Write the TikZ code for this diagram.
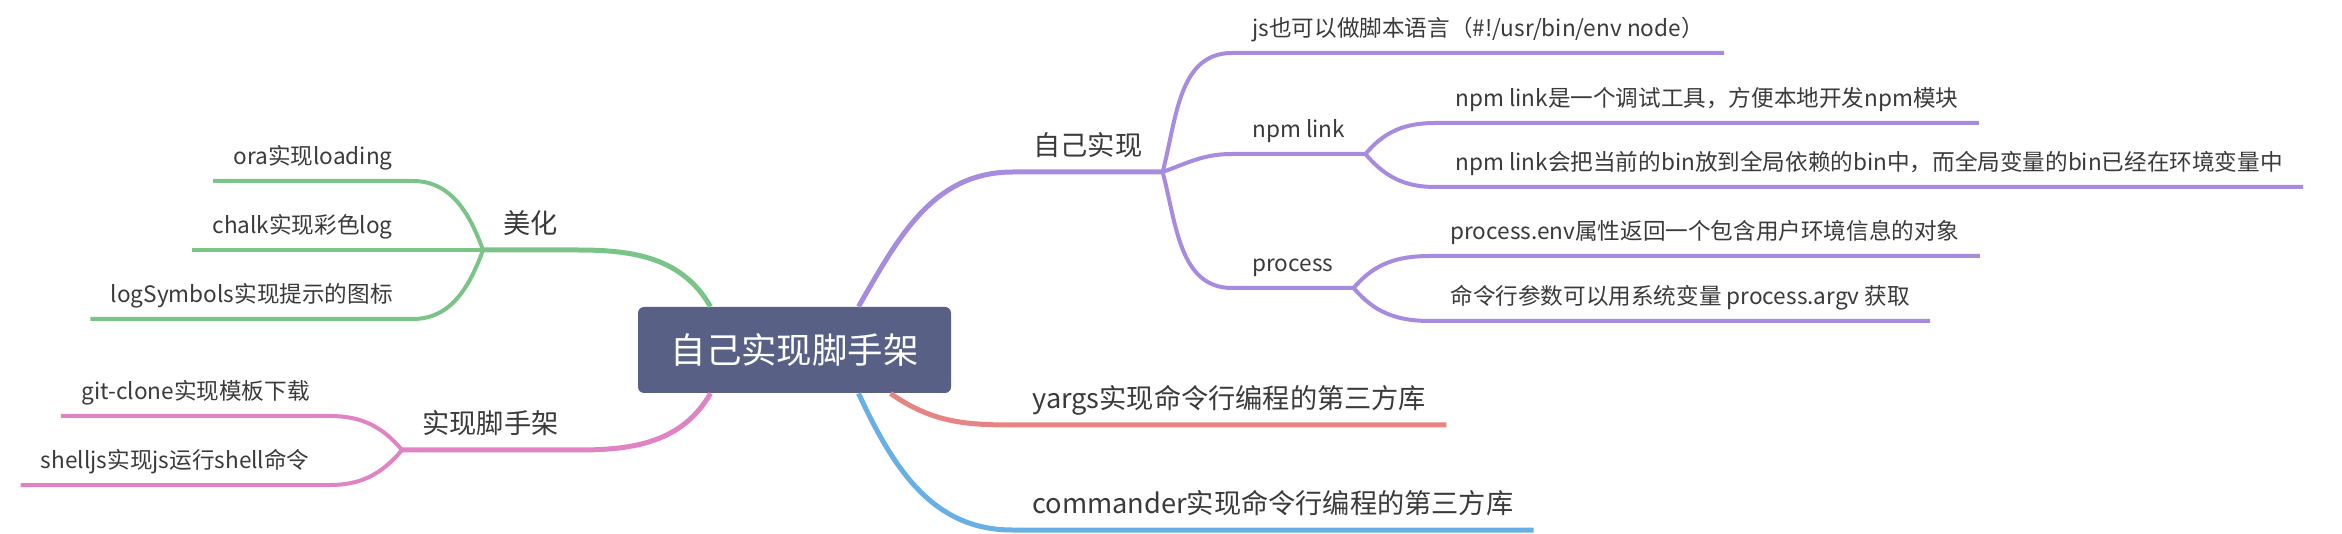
\documentclass[tikz,border=0pt]{standalone}
\usepackage{fontspec}
\setmainfont{Noto Sans CJK SC}
\usepackage{tikz}
\definecolor{rootBlue}{RGB}{89,96,133}
\definecolor{textGray}{RGB}{58,58,58}
\definecolor{lnPurple}{RGB}{166,139,222}
\definecolor{lnGreen}{RGB}{123,196,137}
\definecolor{lnPink}{RGB}{223,131,196}
\definecolor{lnRed}{RGB}{230,131,131}
\definecolor{lnBlue}{RGB}{104,176,227}

\tikzset{
  rootTopic/.style={fill=rootBlue, rounded corners=3pt, text=white,
    minimum width=156.5pt, minimum height=43pt, font=\fontsize{17.7}{20}\selectfont},
  topic/.style={text=textGray, inner xsep=10pt, inner ysep=8pt, text depth=0pt},
  mainTopic/.style={topic, font=\fontsize{13.6}{16}\selectfont},
  subTopic/.style={topic, font=\fontsize{11.3}{13}\selectfont},
  rootLine/.style={line width=2.5pt},
  subLine/.style={line width=2pt},
}

\begin{document}
\begin{tikzpicture}[x=0.5pt,y=-0.5pt]
  \useasboundingbox (0,0) rectangle (2342,534);

  % central topic
  \node[rootTopic] (root) at (794.5,350) {自己实现脚手架};

  % right side
  \node[mainTopic, anchor=south west] (zj) at (1013,172) {自己实现};
  \node[subTopic, anchor=south west] (js) at (1232,53) {js也可以做脚本语言（\#!/usr/bin/env node）};
  \node[subTopic, anchor=south west] (npm) at (1232,154) {npm link};
  \node[subTopic, anchor=south west] (nlkA) at (1435,123) {npm link是一个调试工具，方便本地开发npm模块};
  \node[subTopic, anchor=south west] (nlkB) at (1435,187) {npm link会把当前的bin放到全局依赖的bin中，而全局变量的bin已经在环境变量中};
  \node[subTopic, anchor=south west] (proc) at (1232,288) {process};
  \node[subTopic, anchor=south west] (penv) at (1430,256) {process.env属性返回一个包含用户环境信息的对象};
  \node[subTopic, anchor=south west] (parg) at (1430,321) {命令行参数可以用系统变量 process.argv 获取};
  \node[mainTopic, anchor=south west] (yargs) at (1012,425) {yargs实现命令行编程的第三方库};
  \node[mainTopic, anchor=south west] (cmdr) at (1012,530) {commander实现命令行编程的第三方库};

  % left side
  \node[mainTopic, anchor=south west] (mh) at (483,250) {美化};
  \node[subTopic, anchor=south east] (ora) at (413,181) {ora实现loading};
  \node[subTopic, anchor=south east] (chalk) at (413,250) {chalk实现彩色log};
  \node[subTopic, anchor=south east] (logsym) at (413,319) {logSymbols实现提示的图标};
  \node[mainTopic, anchor=south west] (sxj) at (402,450) {实现脚手架};
  \node[subTopic, anchor=south east] (gitc) at (330,416) {git-clone实现模板下载};
  \node[subTopic, anchor=south east] (shjs) at (330,485) {shelljs实现js运行shell命令};

  % branches from the root
  \draw[lnPurple, rootLine] ([xshift=32pt]root.north) to[out=60,in=180] (zj.south west) -- (zj.south east);
  \draw[lnRed, rootLine] ([xshift=48pt]root.south) to[out=-35,in=180] (yargs.south west) -- (yargs.south east);
  \draw[lnBlue, rootLine] ([xshift=32pt]root.south) to[out=-65,in=180] (cmdr.south west) -- (cmdr.south east);
  \draw[lnGreen, rootLine] ([xshift=-42pt]root.north) to[out=120,in=0] (mh.south east) -- (mh.south west);
  \draw[lnPink, rootLine] ([xshift=-42pt]root.south) to[out=-120,in=0] (sxj.south east) -- (sxj.south west);

  % purple subtree
  \draw[lnPurple, subLine] (zj.south east) to[out=75,in=180] (js.south west) -- (js.south east);
  \draw[lnPurple, subLine] (zj.south east) to[out=20,in=180] (npm.south west) -- (npm.south east);
  \draw[lnPurple, subLine] (zj.south east) to[out=-75,in=180] (proc.south west) -- (proc.south east);
  \draw[lnPurple, subLine] (npm.south east) to[out=50,in=180] (nlkA.south west) -- (nlkA.south east);
  \draw[lnPurple, subLine] (npm.south east) to[out=-50,in=180] (nlkB.south west) -- (nlkB.south east);
  \draw[lnPurple, subLine] (proc.south east) to[out=50,in=180] (penv.south west) -- (penv.south east);
  \draw[lnPurple, subLine] (proc.south east) to[out=-50,in=180] (parg.south west) -- (parg.south east);

  % green subtree
  \draw[lnGreen, subLine] (mh.south west) to[out=110,in=0] (ora.south east) -- (ora.south west);
  \draw[lnGreen, subLine] (mh.south west) -- (chalk.south east) -- (chalk.south west);
  \draw[lnGreen, subLine] (mh.south west) to[out=-110,in=0] (logsym.south east) -- (logsym.south west);

  % pink subtree
  \draw[lnPink, subLine] (sxj.south west) to[out=130,in=0] (gitc.south east) -- (gitc.south west);
  \draw[lnPink, subLine] (sxj.south west) to[out=-130,in=0] (shjs.south east) -- (shjs.south west);
\end{tikzpicture}
\end{document}
